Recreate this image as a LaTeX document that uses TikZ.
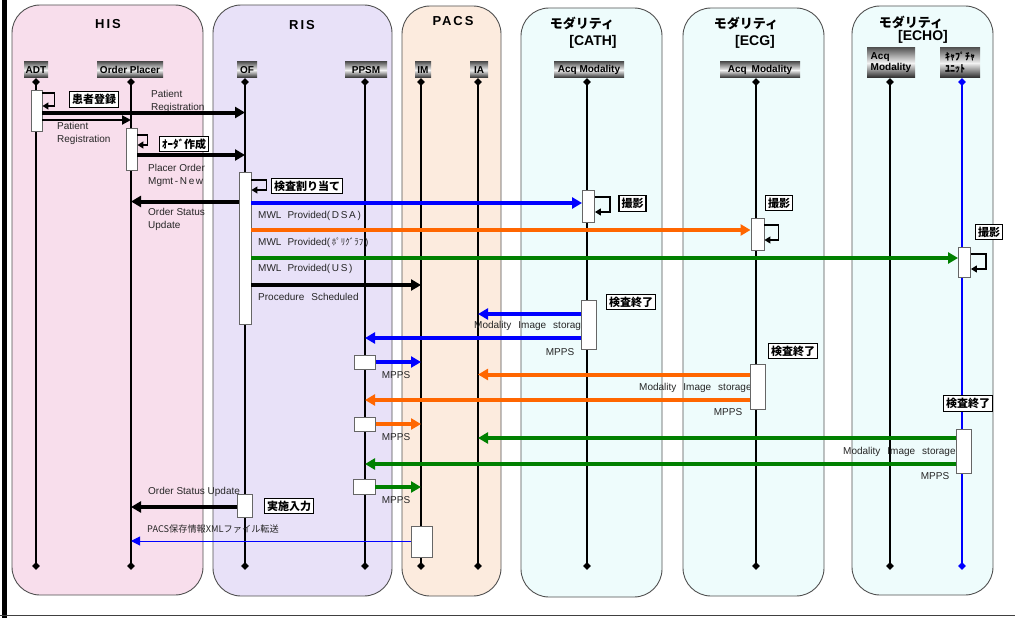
\documentclass[tikz,border=0pt]{standalone}
\usepackage{fontspec}
\setmainfont{Liberation Sans}
\newfontfamily\jp{Noto Sans CJK JP}
\newfontfamily\ttlfont{Liberation Sans}[LetterSpace=15]
\usetikzlibrary{arrows.meta,shapes.geometric}

% 颜色
\definecolor{hisfill}{RGB}{248,222,236}
\definecolor{risfill}{RGB}{232,225,248}
\definecolor{pacsfill}{RGB}{252,235,222}
\definecolor{modfill}{RGB}{238,252,252}
\definecolor{lanegray}{RGB}{80,80,80}
\definecolor{mblue}{RGB}{0,0,255}
\definecolor{morange}{RGB}{255,102,0}
\definecolor{mgreen}{RGB}{0,128,0}

\begin{document}
\begin{tikzpicture}[x=1pt,y=-1pt,
  lane/.style={draw=lanegray,line width=0.9pt,rounded corners=28pt},
  ttl/.style={font=\fontsize{13}{14}\selectfont\bfseries},
  hdr/.style={font=\fontsize{10}{11}\selectfont\bfseries,top color=black!65,bottom color=black!85,middle color=white!95!black,inner sep=1pt,minimum height=16pt},
  act/.style={draw=black!60,fill=white,line width=0.9pt,inner sep=0pt},
  note/.style={draw=black,fill=white,line width=1.1pt,font=\jp\fontsize{11}{12}\selectfont\bfseries,inner sep=2.5pt},
  lbl/.style={font=\fontsize{10}{13}\selectfont,text=black!85,inner sep=0pt,align=left},
  msg/.style={line width=4pt,-{Triangle[length=10pt,width=11pt]}},
  self/.style={line width=1.3pt,-{Triangle[length=6pt,width=7pt]}},
  dia/.style={diamond,fill=black,inner sep=0pt,minimum size=8pt}]

% 取参数（生命线上下端）
\def\yTop{82}
\def\yBot{566}

\useasboundingbox (0,0) rectangle (1015,618);

% 外框（左粗线、底线）
\fill[black] (1.5,0) rectangle (6.5,618);
\draw[black!75,line width=1.5pt] (0,615.5) -- (1015,615.5);

% 泳道
\draw[lane,fill=hisfill] (12,5) rectangle (203,595);
\draw[lane,fill=risfill] (213,5) rectangle (392,596);
\draw[lane,fill=pacsfill] (402,6) rectangle (501,596);
\draw[lane,fill=modfill] (521,8) rectangle (662,597);
\draw[lane,fill=modfill] (683,8) rectangle (824,596);
\draw[lane,fill=modfill] (852,6) rectangle (993,595);

% 泳道标题
\node[ttl] (hisT) at (108,24) {\ttlfont HIS};
\node[ttl] (risT) at (302,25) {\ttlfont RIS};
\node[ttl] (pacsT) at (453,21) {\ttlfont PACS};
\node[ttl,font=\jp\fontsize{13}{14}\selectfont\bfseries] (cathT) at (582,23) {モダリティ};
\node[ttl,font=\fontsize{14}{15}\selectfont\bfseries] (cathS) at (593,42) {[CATH]};
\node[ttl,font=\jp\fontsize{13}{14}\selectfont\bfseries] (ecgT) at (746,23) {モダリティ};
\node[ttl,font=\fontsize{14}{15}\selectfont\bfseries] (ecgS) at (755,42) {[ECG]};
\node[ttl,font=\jp\fontsize{13}{14}\selectfont\bfseries] (echoT) at (911,22) {モダリティ};
\node[ttl,font=\fontsize{14}{15}\selectfont\bfseries] (echoS) at (923,37) {[ECHO]};

% 角色
\node[hdr,minimum width=24pt] (adt) at (36,70) {ADT};
\node[hdr,minimum width=66pt] (op) at (130,70) {Order Placer};
\node[hdr,minimum width=20pt] (of) at (247,70) {OF};
\node[hdr,minimum width=42pt] (ppsm) at (366,70) {PPSM};
\node[hdr,minimum width=16pt] (im) at (423,70) {IM};
\node[hdr,minimum width=18pt] (ia) at (479,70) {IA};
\node[hdr,minimum width=70pt] (cath) at (589,70) {Acq Modality};
\node[hdr,minimum width=80pt] (ecg) at (760,70) {Acq\hspace{5pt}Modality};
\node[hdr,minimum width=48pt,minimum height=30pt,align=left] (echo) at (891,63) {Acq\\Modality};
\node[hdr,minimum width=40pt,minimum height=30pt,align=left,font=\jp\fontsize{10}{12}\selectfont\bfseries] (cap) at (960,63) {ｷｬﾌﾟﾁｬ\\ﾕﾆｯﾄ};

% 生命线
\foreach \n/\x in {adt/36,op/131,of/245,ppsm/365,im/421,ia/478,cath/587,ecg/756,echo/890}{
  \coordinate (\n-t) at (\x,\yTop);
  \coordinate (\n-b) at (\x,\yBot);
  \draw[line width=1.2pt] (\n-t) -- (\n-b);
  \node[dia] (\n-dt) at (\n-t) {};
  \node[dia] (\n-db) at (\n-b) {};
}
\coordinate (cap-t) at (962,\yTop);
\coordinate (cap-b) at (962,\yBot);
\draw[mblue,line width=1.2pt] (cap-t) -- (cap-b);
\node[dia,fill=mblue] (cap-dt) at (cap-t) {};
\node[dia,fill=mblue] (cap-db) at (cap-b) {};

% 消息文字
\node[lbl,anchor=west] (l1) at (151,101) {Patient\\Registration};
\node[lbl,anchor=west] (l2) at (57,133.5) {Patient\\Registration};
\node[lbl,anchor=west] (l3) at (148,175) {Placer Order\\Mgmt\,-\,N\,e\,w};
\node[lbl,anchor=west] (l4) at (148,219.5) {Order Status\\Update};
\node[lbl,anchor=west] (l5) at (258,216) {MWL\hspace{6pt}Provided(\,D\,S\,A\,)};
\node[lbl,anchor=west] (l6) at (258,243) {MWL\hspace{6pt}Provided(\,{\jp\fontsize{9}{10}\selectfont ﾎﾟﾘｸﾞﾗﾌ}\,)};
\node[lbl,anchor=west] (l7) at (258,269) {MWL\hspace{6pt}Provided(\,U\,S\,)};
\node[lbl,anchor=west] (l8) at (258,297) {Procedure\hspace{7pt}Scheduled};
\node[lbl,anchor=west] (l9) at (474,326) {Modality\hspace{7pt}Image\hspace{7pt}storage};
\node[lbl] (l10) at (560,352) {MPPS};
\node[lbl] (l11) at (396,375) {MPPS};
\node[lbl,anchor=west] (l12) at (639,388) {Modality\hspace{7pt}Image\hspace{7pt}storage};
\node[lbl] (l13) at (728,412) {MPPS};
\node[lbl] (l14) at (396,437) {MPPS};
\node[lbl,anchor=west] (l15) at (843,451.5) {Modality\hspace{7pt}Image\hspace{7pt}storage};
\node[lbl] (l16) at (935,476) {MPPS};
\node[lbl] (l17) at (396,500) {MPPS};
\node[lbl,anchor=west] (l18) at (148,492) {Order Status Update};
\node[lbl,anchor=west,font=\jp\fontsize{9.2}{10}\selectfont] (l19) at (147,529) {PACS保存情報XMLファイル転送};

% 活性框
\node[act,minimum width=11pt,minimum height=41pt] (adtA) at (36.5,110.5) {};
\node[act,minimum width=11pt,minimum height=42pt] (opA) at (131.5,149) {};
\node[act,minimum width=12pt,minimum height=152pt] (ofA) at (245,248) {};
\node[act,minimum width=12pt,minimum height=32pt] (cathA) at (588.5,206) {};
\node[act,minimum width=13pt,minimum height=32pt] (ecgA) at (757.5,234) {};
\node[act,minimum width=12pt,minimum height=30pt] (capA) at (964.5,262) {};
\node[act,minimum width=15pt,minimum height=49pt] (cathB) at (588.5,324.5) {};
\node[act,minimum width=21pt,minimum height=14pt] (ppsmA) at (365,362) {};
\node[act,minimum width=15pt,minimum height=45pt] (ecgB) at (758,386.5) {};
\node[act,minimum width=21pt,minimum height=14pt] (ppsmB) at (365,424) {};
\node[act,minimum width=15pt,minimum height=44pt] (capB) at (964,451) {};
\node[act,minimum width=22pt,minimum height=15pt] (ppsmC) at (364,486.5) {};
\node[act,minimum width=15pt,minimum height=23pt] (ofB) at (245,505.5) {};
\node[act,minimum width=21pt,minimum height=31pt] (imA) at (421.5,541.5) {};

% 自调用
\draw[self] (adtA.east |- 0,93) -- ++(12,0) -- ++(0,13) -- (adtA.east |- 0,106);
\draw[self] (opA.east |- 0,135) -- ++(10,0) -- ++(0,10) -- (opA.east |- 0,145);
\draw[self] (ofA.east |- 0,180) -- ++(15,0) -- ++(0,10) -- (ofA.east |- 0,190);
\draw[self] (cathA.east |- 0,197) -- ++(15,0) -- ++(0,15) -- (cathA.east |- 0,212);
\draw[self] (ecgA.east |- 0,225) -- ++(14,0) -- ++(0,15) -- (ecgA.east |- 0,240);
\draw[self] (capA.east |- 0,254) -- ++(15,0) -- ++(0,15) -- (capA.east |- 0,269);

% 消息
\draw[msg] (adtA.east |- 0,112.5) -- (of-t |- 0,112.5);
\draw[line width=2pt,-{Triangle[length=9pt,width=9pt]}] (adtA.east |- 0,120) -- (op-t |- 0,120);
\draw[msg] (opA.east |- 0,155) -- (of-t |- 0,155);
\draw[msg] (ofA.west |- 0,201.5) -- (op-t |- 0,201.5);
\draw[msg,mblue] (ofA.east |- 0,203) -- (cathA.west |- 0,203);
\draw[msg,morange] (ofA.east |- 0,230) -- (ecgA.west |- 0,230);
\draw[msg,mgreen] (ofA.east |- 0,258) -- (capA.west |- 0,258);
\draw[msg] (ofA.east |- 0,285) -- (im-t |- 0,285);
\draw[msg,mblue] (cathB.west |- 0,314) -- (ia-t |- 0,314);
\draw[msg,mblue] (cathB.west |- 0,338) -- (ppsm-t |- 0,338);
\draw[msg,mblue] (ppsmA.east |- 0,362) -- (im-t |- 0,362);
\draw[msg,morange] (ecgB.west |- 0,374.5) -- (ia-t |- 0,374.5);
\draw[msg,morange] (ecgB.west |- 0,400) -- (ppsm-t |- 0,400);
\draw[msg,morange] (ppsmB.east |- 0,424) -- (im-t |- 0,424);
\draw[msg,mgreen] (capB.west |- 0,438) -- (ia-t |- 0,438);
\draw[msg,mgreen] (capB.west |- 0,464) -- (ppsm-t |- 0,464);
\draw[msg,mgreen] (ppsmC.east |- 0,487) -- (im-t |- 0,487);
\draw[msg] (ofB.west |- 0,507) -- (op-t |- 0,507);
\draw[mblue,line width=1pt,-{Triangle[length=9pt,width=9pt]}] (imA.west |- 0,541) -- (op-t |- 0,541);

% 注记框
\node[note] (n1) at (94,99.5) {患者登録};
\node[note] (n2) at (184,144) {ｵｰﾀﾞ作成};
\node[note] (n3) at (307,186) {検査割り当て};
\node[note] (n4) at (632.5,203.5) {撮影};
\node[note] (n5) at (779,203) {撮影};
\node[note] (n6) at (989,232) {撮影};
\node[note] (n7) at (631,302) {検査終了};
\node[note] (n8) at (793,351) {検査終了};
\node[note] (n9) at (968,403.5) {検査終了};
\node[note] (n10) at (289,506) {実施入力};

\end{tikzpicture}
\end{document}
